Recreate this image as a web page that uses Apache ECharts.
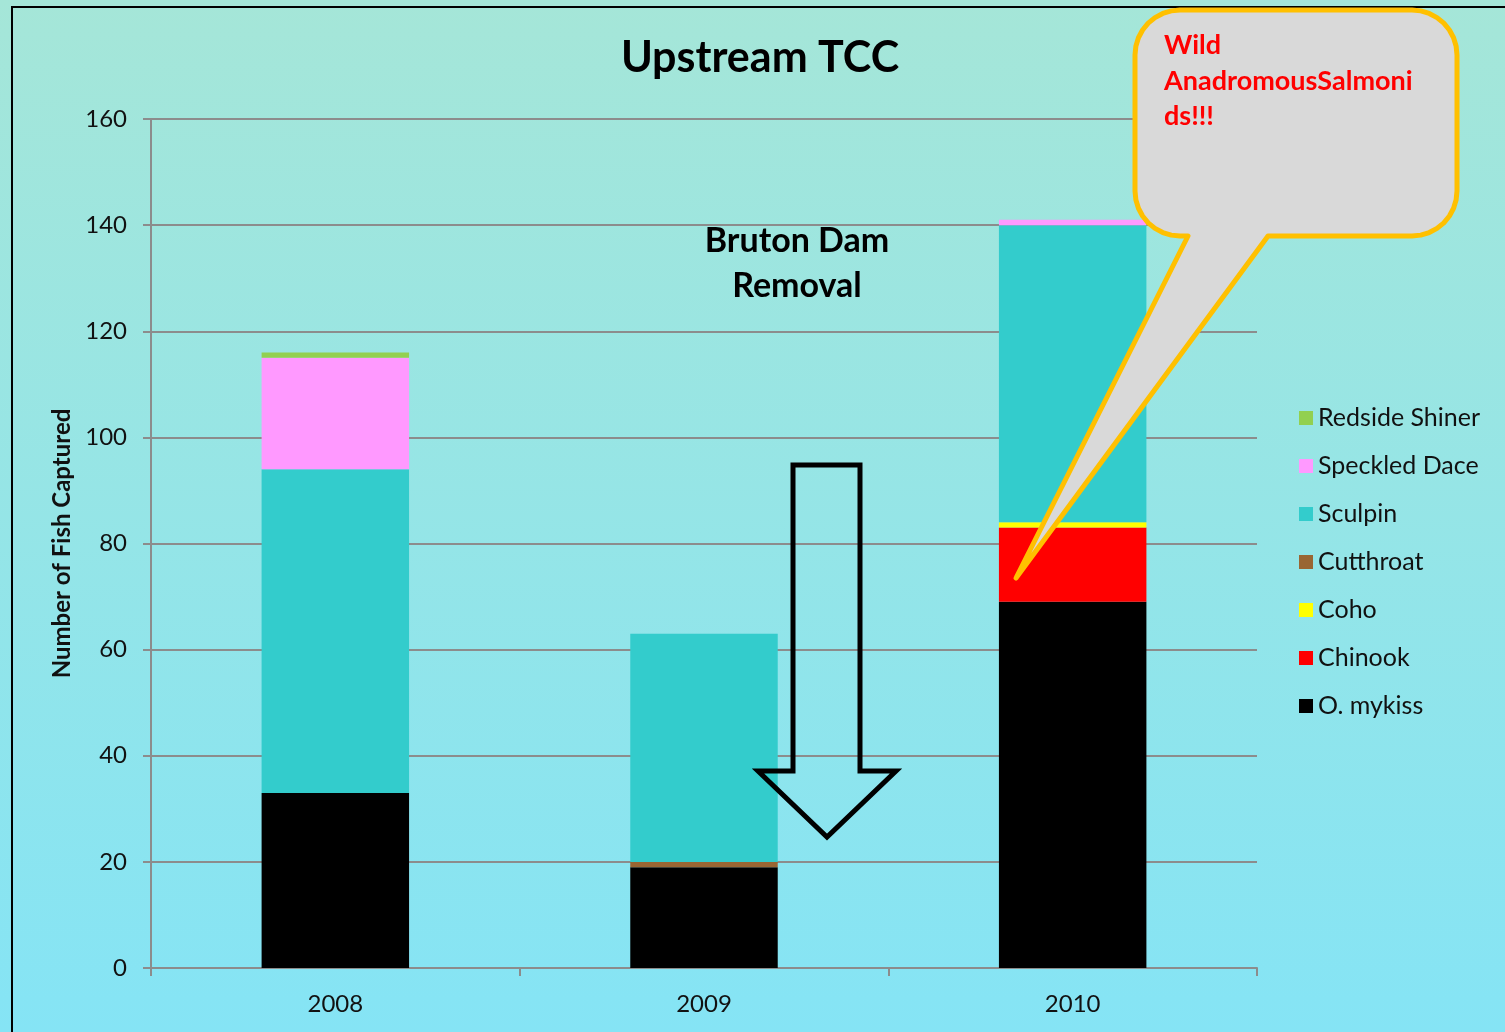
<!DOCTYPE html>
<html>
<head>
<meta charset="utf-8">
<script src="https://cdn.jsdelivr.net/npm/echarts@6/dist/echarts.min.js"></script>
<style>
  html, body { margin: 0; padding: 0; }
  #chart { width: 1505px; height: 1032px; }
</style>
</head>
<body>
<div id="chart"></div>
<script>
// categories
const years = ["2008", "2009", "2010"];
// fish counts per year (bottom to top of the stack)
const oMykiss = [33, 19, 69];
const chinook = [0, 0, 14];
const coho = [0, 0, 1];
const cutthroat = [0, 1, 0];
const sculpin = [61, 43, 56];
const speckledDace = [21, 0, 1];
const redsideShiner = [1, 0, 0];

const FONT = "Lato";

const chart = echarts.init(document.getElementById("chart"));

function bar(name, data, color) {
  return {
    name: name,
    type: "bar",
    stack: "fish",
    barCategoryGap: "60%",
    itemStyle: { color: color },
    data: data
  };
}

// points of a quarter arc for the rounded callout corners
function corner(cx, cy, r, a0, a1) {
  const pts = [];
  for (let i = 0; i <= 8; i++) {
    const a = a0 + (a1 - a0) * i / 8;
    pts.push([cx + r * Math.cos(a), cy + r * Math.sin(a)]);
  }
  return pts;
}

const L = 1135, R = 1457, T = 10, B = 236, r = 45;
const PI = Math.PI;
const calloutPts = [].concat(
  corner(R - r, T + r, r, -PI / 2, 0),
  corner(R - r, B - r, r, 0, PI / 2),
  [[1268, B], [1016, 578], [1188, B]],
  corner(L + r, B - r, r, PI / 2, PI),
  corner(L + r, T + r, r, PI, PI * 1.5)
);

const option = {
  animation: false,
  backgroundColor: {
    type: "linear", x: 0, y: 0, x2: 0, y2: 1,
    colorStops: [
      { offset: 0, color: "#a5e6d8" },
      { offset: 1, color: "#85e4f5" }
    ]
  },
  textStyle: { fontFamily: FONT },
  grid: { left: 151, right: 248, top: 119, bottom: 64 },
  legend: {
    orient: "vertical",
    left: 1299,
    top: 405,
    padding: 0,
    icon: "rect",
    itemWidth: 14,
    itemHeight: 14,
    itemGap: 22,
    textStyle: { fontFamily: FONT, fontSize: 25, color: "#111", lineHeight: 26 },
    data: ["Redside Shiner", "Speckled Dace", "Sculpin", "Cutthroat", "Coho", "Chinook", "O. mykiss"]
  },
  xAxis: {
    type: "category",
    data: years,
    axisLine: { lineStyle: { color: "#8c8c8c", width: 2 } },
    axisTick: { show: true, length: 8, lineStyle: { color: "#8c8c8c", width: 2 } },
    axisLabel: { color: "#111", fontSize: 24, fontFamily: FONT, margin: 24 }
  },
  yAxis: {
    type: "value",
    min: 0,
    max: 160,
    interval: 20,
    name: "Number of Fish Captured",
    nameLocation: "middle",
    nameRotate: 90,
    nameGap: 76,
    nameTextStyle: { fontSize: 24, fontWeight: "bold", color: "#111", fontFamily: FONT },
    axisLine: { show: true, lineStyle: { color: "#8c8c8c", width: 2 } },
    axisTick: { show: true, length: 8, lineStyle: { color: "#8c8c8c", width: 2 } },
    axisLabel: { color: "#111", fontSize: 24, fontFamily: FONT, margin: 24 },
    splitLine: { lineStyle: { color: "#8c8c8c", width: 2 } }
  },
  series: [
    bar("O. mykiss", oMykiss, "#000000"),
    bar("Chinook", chinook, "#ff0000"),
    bar("Coho", coho, "#ffff00"),
    bar("Cutthroat", cutthroat, "#996633"),
    bar("Sculpin", sculpin, "#33cccc"),
    bar("Speckled Dace", speckledDace, "#ff99ff"),
    bar("Redside Shiner", redsideShiner, "#92d050")
  ],
  graphic: [
    // frame
    {
      type: "rect",
      shape: { x: 12, y: 7, width: 1600, height: 1100 },
      style: { fill: "none", stroke: "#000", lineWidth: 2 },
      z: 10
    },
    // title
    {
      type: "text",
      x: 760,
      y: 58,
      style: {
        text: "Upstream TCC",
        font: "bold 43px " + FONT,
        fill: "#000",
        textAlign: "center",
        textVerticalAlign: "middle"
      },
      z: 10
    },
    // annotation
    {
      type: "text",
      x: 797,
      y: 264,
      style: {
        text: "Bruton Dam\nRemoval",
        font: "bold 34px " + FONT,
        lineHeight: 45,
        fill: "#000",
        textAlign: "center",
        textVerticalAlign: "middle"
      },
      z: 10
    },
    // down arrow
    {
      type: "polygon",
      shape: { points: [[793, 465], [860, 465], [860, 771], [896, 771], [827, 837], [758, 771], [793, 771]] },
      style: { fill: "none", stroke: "#000", lineWidth: 5, lineJoin: "miter" },
      z: 10
    },
    // callout bubble
    {
      type: "polygon",
      shape: { points: calloutPts },
      style: { fill: "#d9d9d9", stroke: "#ffc000", lineWidth: 5, lineJoin: "round" },
      z: 11
    },
    {
      type: "text",
      x: 1164,
      y: 28,
      style: {
        text: "Wild\nAnadromousSalmoni\nds!!!",
        font: "bold 27px " + FONT,
        lineHeight: 35.5,
        fill: "#ff0000",
        textAlign: "left",
        textVerticalAlign: "top"
      },
      z: 12
    }
  ]
};

chart.setOption(option);
</script>
</body>
</html>
